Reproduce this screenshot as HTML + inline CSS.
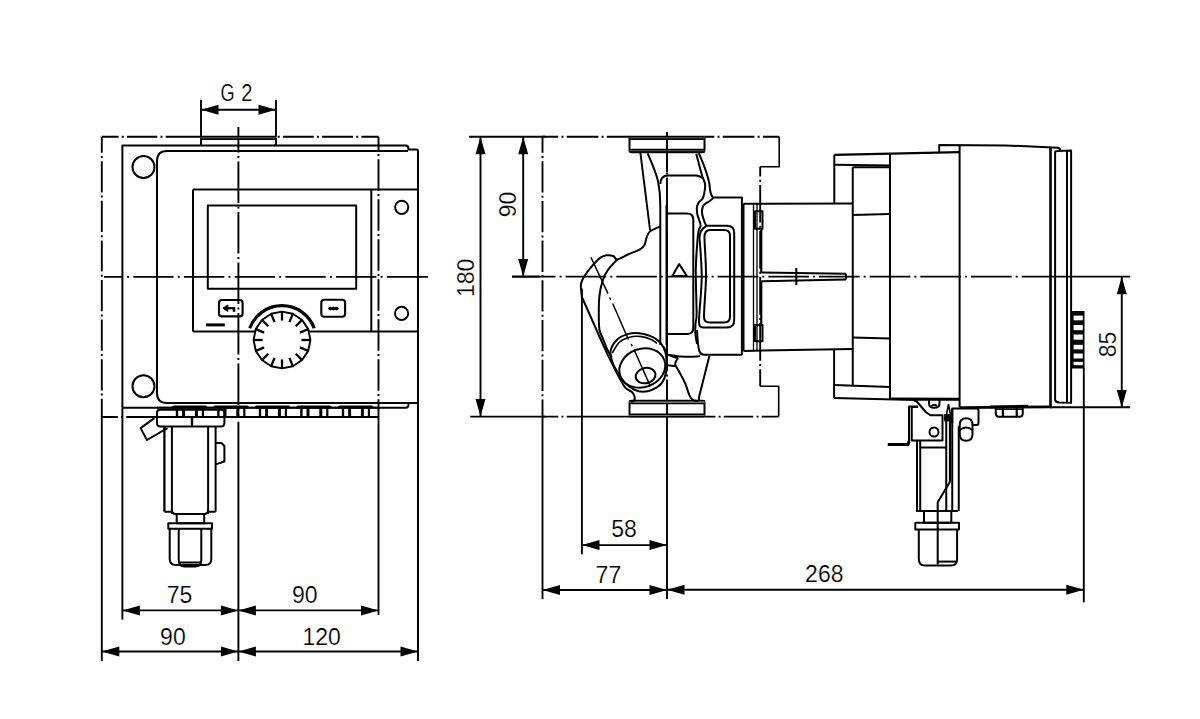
<!DOCTYPE html>
<html><head><meta charset="utf-8"><style>
html,body{margin:0;padding:0;background:#fff;width:1200px;height:719px;overflow:hidden}
svg{display:block}
text{font-family:"Liberation Sans",sans-serif;fill:#000;stroke:#fff;stroke-width:0.2px;paint-order:normal}
</style></head><body>
<svg width="1200" height="719" viewBox="0 0 1200 719" stroke="#000" fill="none" stroke-linecap="butt" stroke-linejoin="round">
<rect x="0" y="0" width="1200" height="719" fill="#fff" stroke="none"/>
<path d="M101.8,136.7 L118.6,136.7 M121.8,136.7 L123.8,136.7 M127,136.7 L157.3,136.7 M160.5,136.7 L162.5,136.7 M165.7,136.7 L201,136.7" stroke-width="1.9"/>
<path d="M277.7,136.7 L279.7,136.7 M282.9,136.7 L313.75,136.7 M316.95,136.7 L318.95,136.7 M322.15,136.7 L353,136.7 M356.2,136.7 L358.2,136.7 M361.4,136.7 L378.5,136.7" stroke-width="1.9"/>
<path d="M101.8,136.7 L101.8,152.8 M101.8,156 L101.8,158 M101.8,161.2 L101.8,192.4 M101.8,195.6 L101.8,197.6 M101.8,200.8 L101.8,232 M101.8,235.2 L101.8,237.2 M101.8,240.4 L101.8,271.6 M101.8,274.8 L101.8,276.8 M101.8,280 L101.8,311.2 M101.8,314.4 L101.8,316.4 M101.8,319.6 L101.8,350.8 M101.8,354 L101.8,356 M101.8,359.2 L101.8,390.4 M101.8,393.6 L101.8,395.6 M101.8,398.8 L101.8,417" stroke-width="1.9"/>
<line x1="101.8" y1="417" x2="101.8" y2="661" stroke-width="1.9" />
<path d="M378.5,136.7 L378.5,150.8 M378.5,154 L378.5,156 M378.5,159.2 L378.5,190.8 M378.5,194 L378.5,196 M378.5,199.2 L378.5,230.8 M378.5,234 L378.5,236 M378.5,239.2 L378.5,270.8 M378.5,274 L378.5,276 M378.5,279.2 L378.5,310.8 M378.5,314 L378.5,316 M378.5,319.2 L378.5,350.8 M378.5,354 L378.5,356 M378.5,359.2 L378.5,390.8 M378.5,394 L378.5,396 M378.5,399.2 L378.5,417" stroke-width="1.9"/>
<line x1="378.5" y1="417" x2="378.5" y2="615" stroke-width="1.9" />
<path d="M101.8,417 L117.8,417 M121,417 L123,417 M126.2,417 L157,417" stroke-width="1.9"/>
<path d="M104,276.9 L122.9,276.9 M127.1,276.9 L129.1,276.9 M133.3,276.9 L173.6,276.9 M177.8,276.9 L179.8,276.9 M184,276.9 L224.3,276.9 M228.5,276.9 L230.5,276.9 M234.7,276.9 L275,276.9 M279.2,276.9 L281.2,276.9 M285.4,276.9 L325.7,276.9 M329.9,276.9 L331.9,276.9 M336.1,276.9 L376.4,276.9 M380.6,276.9 L382.6,276.9 M386.8,276.9 L428,276.9" stroke-width="1.9"/>
<path d="M238.4,127 L238.4,152.4 M238.4,156 L238.4,158 M238.4,161.6 L238.4,202.9 M238.4,206.5 L238.4,208.5 M238.4,212.1 L238.4,253.4 M238.4,257 L238.4,259 M238.4,262.6 L238.4,303.9 M238.4,307.5 L238.4,309.5 M238.4,313.1 L238.4,354.4 M238.4,358 L238.4,360 M238.4,363.6 L238.4,404.9 M238.4,408.5 L238.4,410.5 M238.4,414.1 L238.4,417" stroke-width="1.9"/>
<line x1="238.4" y1="421.7" x2="238.4" y2="661" stroke-width="1.9" />
<path d="M201,145.6 L201,137.5 M276,137.5 L276,143.6 Q276,145.6 274,145.6" stroke-width="2.0" fill="none" />
<rect x="201" y="136.6" width="75" height="2.7" fill="#555" stroke="none"/>
<line x1="201" y1="136.6" x2="276" y2="136.6" stroke-width="1.5" />
<line x1="201" y1="139.3" x2="276" y2="139.3" stroke-width="1.5" />
<line x1="201" y1="99.7" x2="201" y2="136.7" stroke-width="1.9" />
<line x1="276" y1="99.7" x2="276" y2="136.7" stroke-width="1.9" />
<line x1="201" y1="109.8" x2="276" y2="109.8" stroke-width="1.9" />
<polygon points="201,109.8 218.5,114.8 218.5,104.8" fill="#000" stroke="none"/>
<polygon points="276,109.8 258.5,104.8 258.5,114.8" fill="#000" stroke="none"/>
<text x="0" y="0" text-anchor="start" font-size="23" transform="translate(220.6 100.6) scale(0.79 1)">G</text>
<text x="0" y="0" text-anchor="start" font-size="23" transform="translate(241.2 100.6) scale(0.87 1)">2</text>
<path d="M122.4,407.5 L122.4,145.6 L406,145.6 Q408.5,145.6 408.5,149.5 L416.5,149.5 Q418,149.5 418,151.5" stroke-width="2.0" fill="none" />
<line x1="122.4" y1="407.5" x2="122.4" y2="619.6" stroke-width="1.9" />
<path d="M408,151 L167,151 Q157,151 157,161 L157,393 Q157,403 167,403 L418,403" stroke-width="2.0" fill="none" />
<line x1="418" y1="151" x2="418" y2="661" stroke-width="2.0" />
<path d="M122.4,407.7 L406,407.7 Q408.5,407.7 408.5,404" stroke-width="2.0" fill="none" />
<circle cx="143.5" cy="167" r="11" stroke-width="2.0" fill="none"/>
<circle cx="143.5" cy="386.2" r="11" stroke-width="2.0" fill="none"/>
<circle cx="401.7" cy="207.3" r="6.6" stroke-width="2.0" fill="none"/>
<circle cx="401.6" cy="313.4" r="6.6" stroke-width="2.0" fill="none"/>
<line x1="193" y1="189.6" x2="418" y2="189.6" stroke-width="2.0" />
<line x1="193" y1="331.5" x2="418" y2="331.5" stroke-width="2.0" />
<path d="M193,189.6 L193,331.5 M371.3,189.6 L371.3,331.5" stroke-width="2.0" fill="none" />
<rect x="207.8" y="205.6" width="148.4" height="83.1" rx="0" stroke-width="2.0" fill="none" />
<rect x="219" y="300" width="23.6" height="16.4" rx="3" stroke-width="2.1" fill="none" />
<rect x="321.3" y="299.8" width="23.8" height="16.9" rx="3" stroke-width="2.1" fill="none" />
<line x1="226.5" y1="308.2" x2="235" y2="308.2" stroke-width="2.2" />
<line x1="234" y1="307.5" x2="234" y2="311.8" stroke-width="2.6" />
<polygon points="223,308.2 227.8,305 227.8,311.4" fill="#000"/>
<ellipse cx="330.2" cy="308.6" rx="2.1" ry="1.8" fill="#000" stroke="none"/>
<ellipse cx="333.4" cy="308.6" rx="2.1" ry="1.8" fill="#000" stroke="none"/>
<ellipse cx="336.6" cy="308.6" rx="2.1" ry="1.8" fill="#000" stroke="none"/>
<line x1="206" y1="324.9" x2="224.8" y2="324.9" stroke-width="3" />
<polygon points="282,311.6 271.13,313.76 261.92,319.92 255.76,329.13 253.6,340 255.76,350.87 261.92,360.08 271.13,366.24 282,368.4 292.87,366.24 302.08,360.08 308.24,350.87 310.4,340 308.24,329.13 302.08,319.92 292.87,313.76" fill="#fff" stroke-width="1.9"/>
<line x1="282" y1="311.6" x2="282" y2="320.6" stroke-width="2.3" />
<line x1="271.13" y1="313.76" x2="274.58" y2="322.08" stroke-width="2.3" />
<line x1="261.92" y1="319.92" x2="268.28" y2="326.28" stroke-width="2.3" />
<line x1="255.76" y1="329.13" x2="264.08" y2="332.58" stroke-width="2.3" />
<line x1="253.6" y1="340" x2="262.6" y2="340" stroke-width="2.3" />
<line x1="255.76" y1="350.87" x2="264.08" y2="347.42" stroke-width="2.3" />
<line x1="261.92" y1="360.08" x2="268.28" y2="353.72" stroke-width="2.3" />
<line x1="271.13" y1="366.24" x2="274.58" y2="357.92" stroke-width="2.3" />
<line x1="282" y1="368.4" x2="282" y2="359.4" stroke-width="2.3" />
<line x1="292.87" y1="366.24" x2="289.42" y2="357.92" stroke-width="2.3" />
<line x1="302.08" y1="360.08" x2="295.72" y2="353.72" stroke-width="2.3" />
<line x1="308.24" y1="350.87" x2="299.92" y2="347.42" stroke-width="2.3" />
<line x1="310.4" y1="340" x2="301.4" y2="340" stroke-width="2.3" />
<line x1="308.24" y1="329.13" x2="299.92" y2="332.58" stroke-width="2.3" />
<line x1="302.08" y1="319.92" x2="295.72" y2="326.28" stroke-width="2.3" />
<line x1="292.87" y1="313.76" x2="289.42" y2="322.08" stroke-width="2.3" />
<path d="M249.77,328.27 A34.3,34.3 0 0 1 314.23,328.27" stroke-width="3.2" fill="none" />
<line x1="157" y1="407.6" x2="380" y2="407.6" stroke-width="1.7" />
<line x1="157" y1="417" x2="378.5" y2="417" stroke-width="2.0" />
<line x1="173.6" y1="407" x2="205.6" y2="407" stroke-width="3.2" stroke-linecap="round"/>
<line x1="177" y1="408" x2="177" y2="417" stroke-width="2.4" />
<line x1="183.6" y1="408" x2="183.6" y2="417" stroke-width="3" />
<line x1="196.4" y1="408" x2="196.4" y2="417" stroke-width="3" />
<line x1="202.9" y1="408" x2="202.9" y2="417" stroke-width="2.2" />
<line x1="215" y1="407" x2="247" y2="407" stroke-width="3.2" stroke-linecap="round"/>
<line x1="218.4" y1="408" x2="218.4" y2="417" stroke-width="2.4" />
<line x1="225" y1="408" x2="225" y2="417" stroke-width="3" />
<line x1="237.8" y1="408" x2="237.8" y2="417" stroke-width="3" />
<line x1="244.3" y1="408" x2="244.3" y2="417" stroke-width="2.2" />
<line x1="256.6" y1="407" x2="288.6" y2="407" stroke-width="3.2" stroke-linecap="round"/>
<line x1="260" y1="408" x2="260" y2="417" stroke-width="2.4" />
<line x1="266.6" y1="408" x2="266.6" y2="417" stroke-width="3" />
<line x1="279.4" y1="408" x2="279.4" y2="417" stroke-width="3" />
<line x1="285.9" y1="408" x2="285.9" y2="417" stroke-width="2.2" />
<line x1="298" y1="407" x2="330" y2="407" stroke-width="3.2" stroke-linecap="round"/>
<line x1="301.4" y1="408" x2="301.4" y2="417" stroke-width="2.4" />
<line x1="308" y1="408" x2="308" y2="417" stroke-width="3" />
<line x1="320.8" y1="408" x2="320.8" y2="417" stroke-width="3" />
<line x1="327.3" y1="408" x2="327.3" y2="417" stroke-width="2.2" />
<line x1="339.6" y1="407" x2="371.6" y2="407" stroke-width="3.2" stroke-linecap="round"/>
<line x1="343" y1="408" x2="343" y2="417" stroke-width="2.4" />
<line x1="349.6" y1="408" x2="349.6" y2="417" stroke-width="3" />
<line x1="362.4" y1="408" x2="362.4" y2="417" stroke-width="3" />
<line x1="368.9" y1="408" x2="368.9" y2="417" stroke-width="2.2" />
<path d="M160,409.8 Q157,409.8 157,413 L157,423 Q157,426.5 160.5,426.5 L221,426.5 Q224.4,426.5 224.4,423 L224.4,413 Q224.4,409.8 221.4,409.8 Z" stroke-width="2.0" fill="none" />
<line x1="192" y1="417" x2="192" y2="426.5" stroke-width="2.4" />
<polyline points="154.4,418.1 140.6,428.1 146.9,440 167.5,428.1" stroke-width="2.0" fill="none" />
<line x1="164.4" y1="426.5" x2="164.4" y2="511.7" stroke-width="2.3" />
<line x1="171.9" y1="426.5" x2="171.9" y2="514" stroke-width="2.0" />
<line x1="208.1" y1="426.5" x2="208.1" y2="514" stroke-width="2.0" />
<line x1="215.6" y1="426.5" x2="215.6" y2="511.7" stroke-width="2.0" />
<path d="M164.4,511.7 L171.9,511.7 M208.1,511.7 L215.6,511.7" stroke-width="2.0" fill="none" />
<path d="M171.9,510 Q171.9,514 175.9,514 L204.1,514 Q208.1,514 208.1,510" stroke-width="2.0" fill="none" />
<polyline points="215.6,443 221.5,443 224.4,446 224.4,461.5 215.6,464.4" stroke-width="2.0" fill="none" />
<rect x="176.7" y="514" width="27.5" height="9.3" rx="0" stroke-width="2.0" fill="none" />
<rect x="168.3" y="523.3" width="43.7" height="5.4" rx="0" stroke-width="2.0" fill="none" />
<path d="M169.7,528.7 L169.7,559 Q169.7,565 175.7,565 L205.3,565 Q211.3,565 211.3,559 L211.3,528.7" stroke-width="2.0" fill="none" />
<path d="M178.7,528.7 L178.7,560 Q178.7,566.5 184.7,566.5 L195.3,566.5 Q201.3,566.5 201.3,560 L201.3,528.7" stroke-width="2.0" fill="none" />
<line x1="178.7" y1="562.5" x2="201.3" y2="562.5" stroke-width="2.0" />
<line x1="122.4" y1="610.4" x2="238.4" y2="610.4" stroke-width="1.9" />
<polygon points="122.4,610.4 139.9,615.4 139.9,605.4" fill="#000" stroke="none"/>
<polygon points="238.4,610.4 220.9,605.4 220.9,615.4" fill="#000" stroke="none"/>
<text x="179.5" y="602.9" text-anchor="middle" font-size="23">75</text>
<line x1="238.4" y1="610.4" x2="378.5" y2="610.4" stroke-width="1.9" />
<polygon points="238.4,610.4 255.9,615.4 255.9,605.4" fill="#000" stroke="none"/>
<polygon points="378.5,610.4 361,605.4 361,615.4" fill="#000" stroke="none"/>
<text x="304.7" y="602.8" text-anchor="middle" font-size="23">90</text>
<line x1="101.8" y1="651.5" x2="238.4" y2="651.5" stroke-width="1.9" />
<polygon points="101.8,651.5 119.3,656.5 119.3,646.5" fill="#000" stroke="none"/>
<polygon points="238.4,651.5 220.9,646.5 220.9,656.5" fill="#000" stroke="none"/>
<text x="172.9" y="644.8" text-anchor="middle" font-size="23">90</text>
<line x1="238.4" y1="651.5" x2="418" y2="651.5" stroke-width="1.9" />
<polygon points="238.4,651.5 255.9,656.5 255.9,646.5" fill="#000" stroke="none"/>
<polygon points="418,651.5 400.5,646.5 400.5,656.5" fill="#000" stroke="none"/>
<text x="321.7" y="645" text-anchor="middle" font-size="23">120</text>
<line x1="469.2" y1="136.7" x2="545" y2="136.7" stroke-width="1.9" />
<path d="M542,136.7 L558.3,136.7 M561.5,136.7 L563.5,136.7 M566.7,136.7 L598.4,136.7 M601.6,136.7 L603.6,136.7 M606.8,136.7 L630,136.7" stroke-width="1.9"/>
<path d="M704.4,136.7 L714.3,136.7 M717.5,136.7 L719.5,136.7 M722.7,136.7 L754.4,136.7 M757.6,136.7 L759.6,136.7 M762.8,136.7 L779.2,136.7" stroke-width="1.9"/>
<line x1="470.3" y1="416.6" x2="545" y2="416.6" stroke-width="1.9" />
<path d="M542,416.6 L558.3,416.6 M561.5,416.6 L563.5,416.6 M566.7,416.6 L630,416.6" stroke-width="1.9"/>
<path d="M704.1,416.6 L715.4,416.6 M718.6,416.6 L720.6,416.6 M723.8,416.6 L753.3,416.6 M756.5,416.6 L758.5,416.6 M761.7,416.6 L778.7,416.6" stroke-width="1.9"/>
<path d="M779.2,136.7 L779.2,166.7 L760.2,166.7" stroke-width="1.6" fill="none" />
<path d="M760.2,386.3 L778.7,386.3 L778.7,416.6" stroke-width="1.6" fill="none" />
<path d="M760.2,166.7 L760.2,176.5 M760.2,179.7 L760.2,181.7 M760.2,184.9 L760.2,222.57 M760.2,225.77 L760.2,227.77 M760.2,230.97 L760.2,268.64 M760.2,271.84 L760.2,273.84 M760.2,277.04 L760.2,314.71 M760.2,317.91 L760.2,319.91 M760.2,323.11 L760.2,360.78 M760.2,363.98 L760.2,365.98 M760.2,369.18 L760.2,386.3" stroke-width="1.9"/>
<line x1="480.5" y1="136.7" x2="480.5" y2="416.6" stroke-width="1.9" />
<polygon points="480.5,136.7 475.5,154.2 485.5,154.2" fill="#000" stroke="none"/>
<polygon points="480.5,416.6 485.5,399.1 475.5,399.1" fill="#000" stroke="none"/>
<text x="474.3" y="277.9" text-anchor="middle" font-size="23" transform="rotate(-90 474.3 277.9)">180</text>
<line x1="523.2" y1="136.7" x2="523.2" y2="276.5" stroke-width="1.9" />
<polygon points="523.2,136.7 518.2,154.2 528.2,154.2" fill="#000" stroke="none"/>
<polygon points="523.2,276.5 528.2,259 518.2,259" fill="#000" stroke="none"/>
<text x="515.6" y="204.5" text-anchor="middle" font-size="23" transform="rotate(-90 515.6 204.5)">90</text>
<path d="M512,276.6 L555.57,276.6 M559.57,276.6 L561.57,276.6 M565.57,276.6 L606.25,276.6 M610.25,276.6 L612.25,276.6 M616.25,276.6 L656.93,276.6 M660.93,276.6 L662.93,276.6 M666.93,276.6 L707.61,276.6 M711.61,276.6 L713.61,276.6 M717.61,276.6 L758.29,276.6 M762.29,276.6 L764.29,276.6 M768.29,276.6 L808.97,276.6 M812.97,276.6 L814.97,276.6 M818.97,276.6 L859.65,276.6 M863.65,276.6 L865.65,276.6 M869.65,276.6 L910.33,276.6 M914.33,276.6 L916.33,276.6 M920.33,276.6 L961.01,276.6 M965.01,276.6 L967.01,276.6 M971.01,276.6 L1011.69,276.6 M1015.69,276.6 L1017.69,276.6 M1021.69,276.6 L1049,276.6" stroke-width="1.9"/>
<line x1="1049" y1="276.6" x2="1130" y2="276.6" stroke-width="1.9" />
<line x1="512" y1="276.6" x2="540" y2="276.6" stroke-width="1.9" />
<path d="M542.5,136.7 L542.5,152.8 M542.5,156 L542.5,158 M542.5,161.2 L542.5,192.5 M542.5,195.7 L542.5,197.7 M542.5,200.9 L542.5,232.2 M542.5,235.4 L542.5,237.4 M542.5,240.6 L542.5,271.9 M542.5,275.1 L542.5,277.1 M542.5,280.3 L542.5,311.6 M542.5,314.8 L542.5,316.8 M542.5,320 L542.5,351.3 M542.5,354.5 L542.5,356.5 M542.5,359.7 L542.5,391 M542.5,394.2 L542.5,396.2 M542.5,399.4 L542.5,417" stroke-width="1.9"/>
<line x1="542.5" y1="417" x2="542.5" y2="599.2" stroke-width="1.9" />
<path d="M667,132 L667,169.2 M667,172.4 L667,174.4 M667,177.6 L667,219.7 M667,222.9 L667,224.9 M667,228.1 L667,270.2 M667,273.4 L667,275.4 M667,278.6 L667,320.7 M667,323.9 L667,325.9 M667,329.1 L667,371.2 M667,374.4 L667,376.4 M667,379.6 L667,417" stroke-width="1.9"/>
<line x1="667" y1="152" x2="667" y2="172" stroke-width="2.0" />
<line x1="667" y1="417" x2="667" y2="599" stroke-width="1.9" />
<line x1="581.9" y1="288.5" x2="581.9" y2="554.3" stroke-width="1.9" />
<line x1="582" y1="545.1" x2="667" y2="545.1" stroke-width="1.9" />
<polygon points="582,545.1 599.5,550.1 599.5,540.1" fill="#000" stroke="none"/>
<polygon points="667,545.1 649.5,540.1 649.5,550.1" fill="#000" stroke="none"/>
<text x="624" y="536.7" text-anchor="middle" font-size="23">58</text>
<line x1="542.5" y1="590" x2="667" y2="590" stroke-width="1.9" />
<polygon points="542.5,590 560,595 560,585" fill="#000" stroke="none"/>
<polygon points="667,590 649.5,585 649.5,595" fill="#000" stroke="none"/>
<text x="608.4" y="582.6" text-anchor="middle" font-size="23">77</text>
<line x1="667" y1="589.7" x2="1083.8" y2="589.7" stroke-width="1.9" />
<polygon points="667,589.7 684.5,594.7 684.5,584.7" fill="#000" stroke="none"/>
<polygon points="1083.8,589.7 1066.3,584.7 1066.3,594.7" fill="#000" stroke="none"/>
<text x="824.3" y="581.7" text-anchor="middle" font-size="23">268</text>
<line x1="1083.8" y1="368" x2="1083.8" y2="602.4" stroke-width="1.9" />
<path d="M629.5,137 L629.5,150 Q629.5,152.2 631.7,152.2 L702.3,152.2 Q704.5,152.2 704.5,150 L704.5,137" stroke-width="2.0" fill="none" />
<rect x="629.5" y="136.6" width="75" height="2.6" fill="#555" stroke="none"/>
<line x1="629.5" y1="136.6" x2="704.5" y2="136.6" stroke-width="1.5" />
<line x1="629.5" y1="139.2" x2="704.5" y2="139.2" stroke-width="1.5" />
<rect x="629.5" y="149.6" width="75" height="2.5" fill="#555" stroke="none"/>
<line x1="629.5" y1="149.6" x2="704.5" y2="149.6" stroke-width="1.5" />
<line x1="629.5" y1="152.1" x2="704.5" y2="152.1" stroke-width="1.5" />
<path d="M629.5,403 Q629.5,400.8 631.7,400.8 L702.3,400.8 Q704.5,400.8 704.5,403 L704.5,414.5 Q704.5,416.6 702.3,416.6 L631.7,416.6 Q629.5,416.6 629.5,414.5 Z" stroke-width="2.0" fill="none" />
<rect x="629.5" y="400.8" width="75" height="2.7" fill="#999" stroke="none"/>
<line x1="629.5" y1="400.8" x2="704.5" y2="400.8" stroke-width="1.5" />
<line x1="629.5" y1="403.5" x2="704.5" y2="403.5" stroke-width="1.5" />
<rect x="629.5" y="414.3" width="75" height="2.3" fill="#999" stroke="none"/>
<line x1="629.5" y1="414.3" x2="704.5" y2="414.3" stroke-width="1.5" />
<line x1="629.5" y1="416.6" x2="704.5" y2="416.6" stroke-width="1.5" />
<path d="M640.4,153 L650.1,230.5" stroke-width="2.0" fill="none" />
<path d="M660.3,226.5 C658.58,227.33 652.25,229.78 650,231.5 C647.75,233.22 647.72,234.55 646.8,236.8 C645.88,239.05 645.63,242.92 644.5,245 C643.37,247.08 642.75,247.72 640,249.3 C637.25,250.88 631.78,252.83 628,254.5 C624.22,256.17 619.75,259.05 617.3,259.3 C614.85,259.55 615.07,256.67 613.3,256 C611.53,255.33 608.9,254.98 606.7,255.3 C604.5,255.62 602.52,256.13 600.1,257.9 C597.68,259.67 594.84,262.82 592.2,265.9 C589.56,268.98 586.08,273.55 584.25,276.4 C582.42,279.25 581.76,281.02 581.2,283 C580.64,284.98 580.95,287.42 580.9,288.3 L581.9,297 L601.7,341.7  C603,344.48 606.9,353.02 609.5,358.4 C612.1,363.78 614.72,369.18 617.3,374 C619.88,378.82 622.6,384.33 625,387.3 C627.4,390.27 630.12,390.32 631.7,391.8 C633.28,393.28 634.12,394.72 634.5,396.2 C634.88,397.68 634.65,399.73 634,400.7 C633.35,401.67 631.17,401.78 630.6,402" stroke-width="2.0" fill="none" />
<path d="M647.6,153.3 C652,163 656,172 658.2,182 C659.8,190 660.3,196 660.3,205 L660.3,345" stroke-width="2.0" fill="none" />
<path d="M617.3,259.3 C615.75,261.05 610.42,266.28 608,269.8 C605.58,273.32 604.18,275.99 602.75,280.4 C601.32,284.81 600.06,290.75 599.4,296.25 C598.74,301.75 598.8,307.89 598.8,313.4 C598.8,318.91 598.73,325.13 599.4,329.3 C600.07,333.47 601.53,335.12 602.8,338.4 C604.07,341.68 605.52,345.82 607,349 C608.48,352.18 610.92,356.08 611.7,357.5" stroke-width="2.0" fill="none" />
<path d="M610.6,350.6 C611.43,346.9 614.33,342.28 617.3,339.5 C620.27,336.72 624.7,334.93 628.4,333.9 C632.1,332.87 635.8,332.93 639.5,333.3 C643.2,333.67 647.52,334.9 650.6,336.1 C653.68,337.3 655.85,338.63 658,340.5 C660.15,342.37 662.1,344.38 663.5,347.3 C664.9,350.22 665.95,353.93 666.4,358 C666.85,362.07 666.97,367.55 666.2,371.7 C665.43,375.85 664.02,379.93 661.8,382.9 C659.58,385.87 656.07,388.02 652.9,389.5 C649.73,390.98 645.95,391.8 642.8,391.8 C639.65,391.8 636.97,390.98 634,389.5 C631.03,388.02 627.78,385.87 625,382.9 C622.22,379.93 619.42,375.23 617.3,371.7 C615.18,368.17 613.42,365.22 612.3,361.7 C611.18,358.18 609.77,354.3 610.6,350.6 Z" stroke-width="2.0" fill="none" />
<path d="M612.2,353 C613.42,351.2 616.62,344.83 619.5,342.2 C622.38,339.57 625.8,338.13 629.5,337.2 C633.2,336.27 638,336.18 641.7,336.6 C645.4,337.02 649.15,338.55 651.7,339.7 C654.25,340.85 656.12,342.87 657,343.5" stroke-width="1.6" fill="none" />
<ellipse cx="0" cy="0" rx="23.4" ry="19.2" stroke-width="2.0" fill="none" transform="translate(642.3 368) rotate(-20)"/>
<ellipse cx="0" cy="0" rx="10" ry="7.6" stroke-width="2.0" fill="none" transform="translate(645.6 375.6) rotate(-12)"/>
<line x1="590.9" y1="257.3" x2="608" y2="293.6" stroke-width="1.5" />
<line x1="609.6" y1="297.5" x2="610.6" y2="299.7" stroke-width="1.5" />
<line x1="612.7" y1="303.5" x2="628.4" y2="339.5" stroke-width="1.5" />
<line x1="631.2" y1="344" x2="632.2" y2="346.2" stroke-width="1.5" />
<line x1="634" y1="349.5" x2="650.1" y2="385.6" stroke-width="1.5" />
<path d="M663.5,347.3 C666,350 666.7,352 666.7,354.5" stroke-width="2.0" fill="none" />
<path d="M667.2,354.5 C668,354.78 670.17,355.58 672,356.2 C673.83,356.82 677.17,357.87 678.2,358.2" stroke-width="2.0" fill="none" />
<path d="M666.5,365 C667.08,365.1 668.58,365.43 670,365.6 C671.42,365.77 674.17,365.93 675,366" stroke-width="2.0" fill="none" />
<path d="M678.2,358.2 C676,360 675,362 675,366" stroke-width="2.0" fill="none" />
<path d="M666.7,213.4 L687,213.4 Q693.3,213.4 693.3,219.7 L693.3,327.7 Q693.3,334 687,334 L666.7,334" stroke-width="2.0" fill="none" />
<line x1="666.7" y1="205" x2="666.7" y2="345" stroke-width="2.4" />
<path d="M660.4,184 Q660.4,175.4 668,175.4 L696,175.4 Q701,176 703,178.5" stroke-width="2.0" fill="none" />
<path d="M696.25,153.75 C697.19,157.29 700.44,170 701.9,175 C703.36,180 704.58,180.83 705,183.75 C705.42,186.67 704.82,190 704.4,192.5 C703.98,195 703.44,197.08 702.5,198.75 C701.56,200.42 699.68,201.04 698.75,202.5 C697.82,203.96 697.11,205.42 696.9,207.5 C696.69,209.58 696.88,212.08 697.5,215 C698.12,217.92 700.39,222.5 700.6,225 C700.81,227.5 699.27,227.5 698.75,230 C698.23,232.5 697.99,233.33 697.5,240 C697.01,246.67 695.95,257.83 695.8,270 C695.65,282.17 696.63,304.17 696.6,313 C696.57,321.83 695.82,319.67 695.6,323 C695.38,326.33 695.07,329.5 695.3,333 C695.53,336.5 696.72,342.17 697,344" stroke-width="2.0" fill="none" />
<path d="M698.8,153 C703,163 707,172 709.4,183.7 C710,190 710,195 713.1,197.5 L741.9,197.5 L741.9,355" stroke-width="2.0" fill="none" />
<path d="M713.1,198 C711,201 706,203 703.7,205 C701.9,208 701.5,213 703.1,217.5 C704,221 705,223.5 706.3,225.8 L727,225.8 Q734.2,225.8 734.2,233 L734.2,320 Q734.2,327.5 727,327.5 L703,327.5 Q699,327.5 699,322 C699,310 702,290 701.7,275 C701.5,260 700,245 699.5,238 Q699.5,230 706.3,225.8" stroke-width="2.0" fill="none" />
<path d="M710,230 L724,230 Q730,230 730,236 L730,316.5 Q730,322.5 724,322.5 L710,322.5 Q704,322.5 704,317 C704,305 706,290 706,275 C706,260 704.5,245 704.5,237 Q704.5,230 710,230 Z" stroke-width="2.0" fill="none" />
<polygon points="672.3,276 679.2,264.1 686.9,276" stroke-width="2.0" fill="none" />
<path d="M697,330 C697.5,340 698,348 699.5,351.5 C700.5,353.5 701.5,354.8 704,354.8 L741.9,354.8" stroke-width="2.0" fill="none" />
<path d="M666.7,354.5 C669.13,354.85 676.25,356.25 681.3,356.6 C686.35,356.95 693.88,356.78 697,356.6 C700.12,356.42 699.5,355.68 700,355.5" stroke-width="2.0" fill="none" />
<path d="M699,401 L699,397 L709.5,355.6" stroke-width="2.0" fill="none" />
<path d="M675,364.4 C675.88,365.97 678.55,370.5 680.3,373.8 C682.05,377.1 683.95,380.55 685.5,384.2 C687.05,387.85 688.38,393.08 689.6,395.7 C690.82,398.32 691.4,399.02 692.8,399.9 C694.2,400.78 697.13,400.82 698,401" stroke-width="2.0" fill="none" />
<line x1="743.5" y1="203.75" x2="743.5" y2="350.9" stroke-width="2.0" />
<line x1="743.5" y1="203.75" x2="852.6" y2="203.5" stroke-width="2.0" />
<line x1="743.5" y1="350.9" x2="852.6" y2="348.9" stroke-width="2.0" />
<line x1="753.5" y1="203.7" x2="753.5" y2="350.6" stroke-width="1.3" />
<line x1="757" y1="203.7" x2="757" y2="350.6" stroke-width="1.3" />
<rect x="755" y="211.25" width="7.5" height="17.5" rx="0" stroke-width="2.0" fill="none" />
<rect x="755" y="325" width="7.5" height="16.25" rx="0" stroke-width="2.0" fill="none" />
<line x1="761.25" y1="228.75" x2="761.25" y2="272.5" stroke-width="2.1999999999999997" />
<line x1="761.25" y1="281.3" x2="761.25" y2="325" stroke-width="2.1999999999999997" />
<line x1="761.25" y1="272.5" x2="846" y2="273.75" stroke-width="2.0" />
<line x1="761.25" y1="281.25" x2="846" y2="279.5" stroke-width="2.0" />
<line x1="846" y1="273.75" x2="846" y2="279.5" stroke-width="2.0" />
<line x1="796.3" y1="268" x2="796.3" y2="285" stroke-width="2.0" />
<line x1="834.3" y1="154.8" x2="834.3" y2="203.5" stroke-width="2.0" />
<line x1="834.1" y1="349.4" x2="834.1" y2="398.1" stroke-width="2.0" />
<line x1="834.3" y1="154.8" x2="959.6" y2="152.2" stroke-width="2.3" />
<line x1="834.3" y1="164.8" x2="890.2" y2="165.5" stroke-width="2.0" />
<line x1="852.75" y1="167.3" x2="890.2" y2="167.3" stroke-width="2.0" />
<line x1="852.75" y1="167.3" x2="852.75" y2="385" stroke-width="2.0" />
<line x1="852.9" y1="215.1" x2="889.5" y2="214.1" stroke-width="2.0" />
<line x1="852.75" y1="337.5" x2="890" y2="338.5" stroke-width="2.0" />
<line x1="834" y1="385" x2="890" y2="386.9" stroke-width="2.0" />
<line x1="834.1" y1="398.1" x2="914.5" y2="400" stroke-width="2.0" />
<line x1="890" y1="153" x2="890" y2="399.4" stroke-width="2.0" />
<path d="M939.2,152 L939.2,144.95 L1006,145.4 L1057.8,147.8 Q1060.3,148.5 1060.3,150.5" stroke-width="2.0" fill="none" />
<line x1="959.6" y1="145.5" x2="959.6" y2="407.3" stroke-width="2.0" />
<line x1="890" y1="398.5" x2="959.6" y2="398.8" stroke-width="2.0" />
<line x1="959.6" y1="407.6" x2="1052" y2="406.8" stroke-width="2.8" />
<line x1="1050.5" y1="147.8" x2="1050.5" y2="406" stroke-width="2.6" />
<path d="M1055.1,400 L1055.1,153 Q1055.1,151.1 1057,151.1 L1071.1,150.6 L1071.1,402.75 L1059.2,402.4 Q1055.4,402.2 1055.1,400" stroke-width="2.0" fill="none" />
<line x1="1067" y1="151" x2="1067" y2="402.7" stroke-width="2.0" />
<rect x="1071.5" y="311" width="13" height="57.5" fill="#000" stroke="none"/>
<rect x="1073.6" y="315.6" width="9.2" height="4.7" fill="#fff" stroke="none"/>
<rect x="1073.6" y="325" width="9.2" height="5.2" fill="#fff" stroke="none"/>
<rect x="1073.6" y="334.5" width="9.2" height="5.2" fill="#fff" stroke="none"/>
<rect x="1073.6" y="344.8" width="9.2" height="4.6" fill="#fff" stroke="none"/>
<rect x="1073.6" y="353.5" width="9.2" height="5" fill="#fff" stroke="none"/>
<rect x="1073.6" y="361.8" width="9.2" height="3.4" fill="#fff" stroke="none"/>
<line x1="1050" y1="407.2" x2="1130" y2="407.2" stroke-width="1.9" />
<line x1="1121.75" y1="276.8" x2="1121.75" y2="407.5" stroke-width="1.9" />
<polygon points="1121.75,276.8 1116.75,294.3 1126.75,294.3" fill="#000" stroke="none"/>
<polygon points="1121.75,407.5 1126.75,390 1116.75,390" fill="#000" stroke="none"/>
<text x="1116" y="344.4" text-anchor="middle" font-size="23" transform="rotate(-90 1116 344.4)">85</text>
<path d="M912.5,399.5 L917,401.75 L926,412.25 L930.5,415.25 L942.5,415.25 L942.5,440.5 L911.75,440.5 L911.75,407 L918,407" stroke-width="2.0" fill="none" />
<path d="M909,444 L909,406.5 L918,406.5" stroke-width="2.0" fill="none" />
<path d="M929,399.5 L929,403.5 Q929,407.75 934.25,407.75 Q939.5,407.75 939.5,403.5 L939.5,399.5" stroke-width="2.0" fill="none" />
<path d="M931.5,406 Q934.25,403.5 937,406" stroke-width="1.8" fill="none" />
<line x1="912.5" y1="399.5" x2="960" y2="399.5" stroke-width="2.6" />
<path d="M995.75,407.5 L995.75,413.5 Q996,416.75 999,416.75 L1019.5,416.75 Q1022.75,416.75 1022.75,413.5 L1022.75,407.5" stroke-width="2.0" fill="none" />
<line x1="995.75" y1="409.2" x2="1022.75" y2="409.2" stroke-width="1.5" />
<line x1="1002.9" y1="408" x2="1002.9" y2="416" stroke-width="2.2" />
<line x1="1016.75" y1="408" x2="1016.75" y2="416" stroke-width="2.2" />
<line x1="990" y1="406.8" x2="1028" y2="406.2" stroke-width="2.8" />
<circle cx="934" cy="432" r="4.5" stroke-width="2.0" fill="none"/>
<path d="M887.75,444.5 L908,444.5 L909,441.5" stroke-width="3.2" fill="none" />
<line x1="917" y1="440.5" x2="917" y2="511" stroke-width="2.0" />
<line x1="920.2" y1="440.5" x2="920.2" y2="511" stroke-width="2.0" />
<line x1="946.25" y1="419" x2="946.25" y2="511" stroke-width="2.0" />
<line x1="950" y1="419" x2="950" y2="481.8" stroke-width="2.1999999999999997" />
<line x1="952.25" y1="408.5" x2="952.25" y2="511" stroke-width="2.0" />
<line x1="958.75" y1="426" x2="958.75" y2="511" stroke-width="2.0" />
<line x1="920.2" y1="447.5" x2="946.25" y2="447.5" stroke-width="2.0" />
<path d="M950,481.8 L937.7,502.3 L937.7,564.5" stroke-width="2.0" fill="none" />
<polygon points="945.6,419 948.5,404.5 951.4,419" fill="#fff" stroke="#000" stroke-width="1.6"/>
<rect x="944.5" y="414.5" width="7.3" height="6.5" rx="0" stroke-width="0.8" fill="#000" />
<path d="M952.25,423.5 L952.25,408.5 L976.5,408.5 Q978.5,408.5 978.5,410.5 L978.5,423 Q978.5,425 976.5,425 L972.5,425" stroke-width="2.0" fill="none" />
<path d="M959.75,425 Q959.75,418.25 966.1,418.25 Q972.5,418.25 972.5,425 L972.5,434 Q972.5,440.75 966.1,440.75 Q959.75,440.75 959.75,434 Z" stroke-width="2.0" fill="#fff" />
<path d="M959.75,430 Q966.1,425 972.5,430" stroke-width="1.8" fill="none" />
<path d="M916,511 L958.1,511" stroke-width="2.0" fill="none" />
<rect x="924" y="511" width="27.3" height="11.7" rx="0" stroke-width="2.0" fill="none" />
<rect x="915.3" y="522.7" width="43.7" height="6.8" rx="0" stroke-width="2.0" fill="none" />
<path d="M918.8,529.5 L918.8,559 Q918.8,565.5 925,565.5 L951,565.5 Q957.1,565.5 957.1,559 L957.1,529.5" stroke-width="2.0" fill="none" />
<line x1="937.7" y1="561.6" x2="957.1" y2="561.6" stroke-width="2.0" />
</svg></body></html>
